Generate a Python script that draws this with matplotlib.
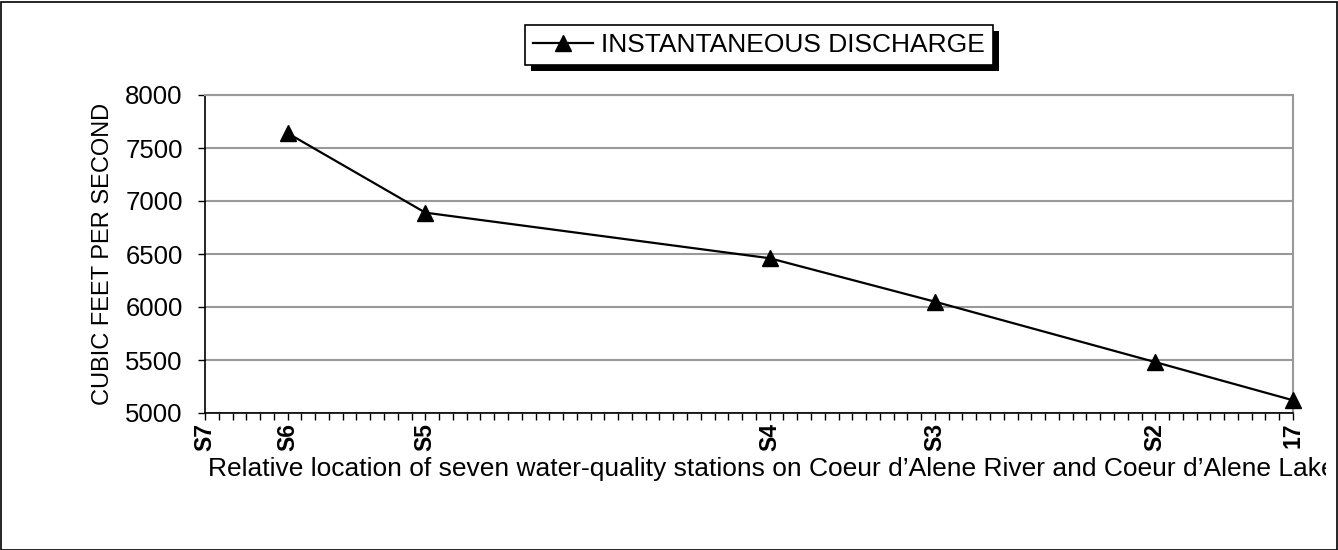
import matplotlib.pyplot as plt
import numpy as np
from matplotlib.patches import Rectangle
from matplotlib.ticker import MultipleLocator

plt.rcParams['font.family'] = ['Liberation Sans', 'DejaVu Sans']

stations = ['S7', 'S6', 'S5', 'S4', 'S3', 'S2', '17']
station_pos = [0, 6, 16, 41, 53, 69, 79]
sampled = ['S6', 'S5', 'S4', 'S3', 'S2', '17']
discharge = [7640, 6890, 6460, 6050, 5480, 5120]

x = [station_pos[stations.index(s)] for s in sampled]

fig = plt.figure(figsize=(13.38, 5.5), dpi=100)
ax = fig.add_axes([205/1338, 1 - 413/550, 1088/1338, 318/550])

ax.plot(x, discharge, color='black', lw=1.6, marker='^', ms=12,
        mfc='black', mec='black', label='INSTANTANEOUS DISCHARGE',
        clip_on=False, zorder=5)

ax.set_xlim(0, 79)
ax.set_ylim(5000, 8000)
ax.set_yticks(np.arange(5000, 8001, 500))
ax.grid(axis='y', color='#999999', lw=1.5)
ax.set_axisbelow(True)

ax.set_xticks(station_pos)
ax.set_xticklabels(stations, rotation=90, fontweight='bold', fontsize=16.5)
ax.xaxis.set_minor_locator(MultipleLocator(1))
ax.tick_params(axis='x', which='both', direction='out', length=5, width=1, pad=2)
ax.tick_params(axis='y', direction='out', length=5, width=1, labelsize=18.5, pad=11)

for side in ['top', 'right']:
    ax.spines[side].set_color('#999999')
    ax.spines[side].set_linewidth(1.5)
for side in ['left', 'bottom']:
    ax.spines[side].set_color('black')
    ax.spines[side].set_linewidth(1.2)

ax.set_ylabel('CUBIC FEET PER SECOND', fontsize=17)
ax.yaxis.set_label_coords((114 - 205) / 1088, 0.5)

xl = fig.text(208/1338, 1 - 469/550,
              "Relative location of seven water-quality stations on Coeur d\u2019Alene River and Coeur d\u2019Alene Lake",
              ha='left', va='center', fontsize=19)
xl.set_clip_path(Rectangle((0, 0), 1326/1338, 1, transform=fig.transFigure))

leg = fig.legend(loc='center', bbox_to_anchor=(759/1338, 1 - 45/550),
                 fontsize=19, frameon=True, fancybox=False, shadow=False,
                 framealpha=1, handlelength=2.3, handletextpad=0.3,
                 borderpad=0.3, borderaxespad=0, markerscale=1.0)
leg.get_frame().set_edgecolor('black')
leg.get_frame().set_linewidth(1.2)
leg.set_zorder(10)

fig.canvas.draw()
bb = leg.get_frame().get_window_extent()
W, H = fig.bbox.width, fig.bbox.height
fig.patches.append(Rectangle(((bb.x0 + 6)/W, (bb.y0 - 6)/H), bb.width/W, bb.height/H,
                             transform=fig.transFigure, facecolor='black',
                             edgecolor='none', zorder=9))

fig.patches.append(Rectangle((0.5/1338, 0.5/550), 1336/1338, 548/550,
                             transform=fig.transFigure, fill=False,
                             edgecolor='black', lw=1.2))

fig.savefig('out.png', dpi=100)
